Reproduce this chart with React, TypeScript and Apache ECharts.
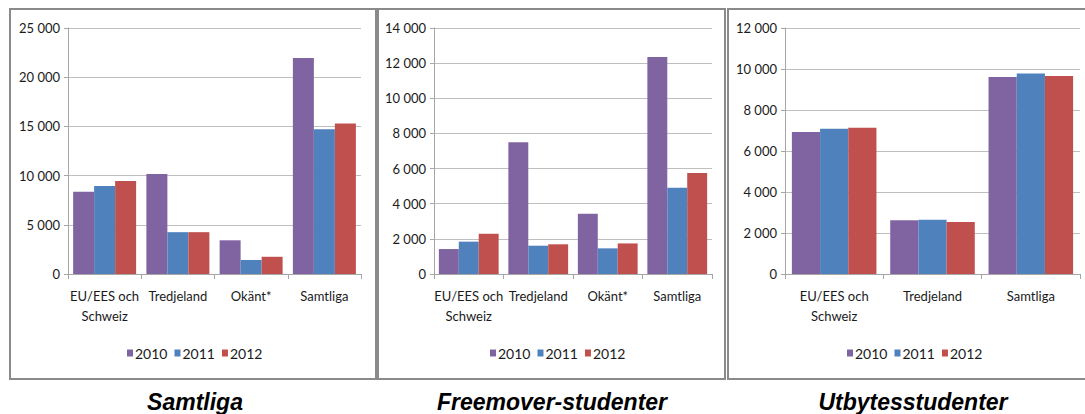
import React, { useEffect, useRef } from "react";
import * as echarts from "echarts";

const categoriesFour = ["EU/EES och\nSchweiz", "Tredjeland", "Okänt*", "Samtliga"];
const categoriesThree = ["EU/EES och\nSchweiz", "Tredjeland", "Samtliga"];
const years = ["2010", "2011", "2012"];
const yearColors = ["#8064A2", "#4F81BD", "#C0504D"];

// Samtliga
const samtliga2010 = [8350, 10150, 3425, 21950];
const samtliga2011 = [8950, 4250, 1420, 14700];
const samtliga2012 = [9450, 4250, 1750, 15300];

// Freemover-studenter
const freemover2010 = [1420, 7500, 3430, 12350];
const freemover2011 = [1840, 1610, 1460, 4910];
const freemover2012 = [2290, 1690, 1740, 5750];

// Utbytesstudenter
const utbyte2010 = [6930, 2620, 9610];
const utbyte2011 = [7090, 2650, 9785];
const utbyte2012 = [7135, 2535, 9660];

const panelTitles = ["Samtliga", "Freemover-studenter", "Utbytesstudenter"];
const yMax = [25000, 14000, 12000];
const yInterval = [5000, 2000, 2000];

const FONT = "Lato, 'Noto Sans', sans-serif";
const TITLE_FONT = "'Liberation Sans', Arial, sans-serif";

const fmt = (v: number) => {
  const s = String(Math.round(v));
  return s.replace(/\B(?=(\d{3})+(?!\d))/g, " ");
};

export default function App() {
  const ref = useRef<HTMLDivElement>(null);
  useEffect(() => {
    document.body.style.margin = "0";
    if (!ref.current) return;
    const chart = echarts.init(ref.current, null, { renderer: "svg" });

    const grids = [
      { left: 68, top: 28, width: 293, height: 246 },
      { left: 434, top: 28, width: 278, height: 246 },
      { left: 785, top: 28, width: 295, height: 246 },
    ];
    const cats = [categoriesFour, categoriesFour, categoriesThree];
    const data = [
      [samtliga2010, samtliga2011, samtliga2012],
      [freemover2010, freemover2011, freemover2012],
      [utbyte2010, utbyte2011, utbyte2012],
    ];
    const legendLeft = [127, 490, 847];
    const titleX = [195, 552, 913];

    const series: any[] = [];
    data.forEach((panel, p) => {
      panel.forEach((vals, i) => {
        series.push({
          type: "bar",
          name: years[i],
          xAxisIndex: p,
          yAxisIndex: p,
          data: vals,
          barGap: "0%",
          barCategoryGap: "14%",
          itemStyle: { color: yearColors[i] },
        });
      });
    });

    const option: any = {
      animation: false,
      grid: grids.map((g) => ({ ...g, containLabel: false })),
      xAxis: cats.map((c, p) => ({
        type: "category",
        gridIndex: p,
        data: c,
        axisLine: { show: true, lineStyle: { color: "#a6a6a6", width: 1 } },
        axisTick: { show: true, length: 5, lineStyle: { color: "#a6a6a6" } },
        axisLabel: {
          color: "#1a1a1a",
          fontFamily: FONT,
          fontSize: 13,
          lineHeight: 20,
          margin: 12,
          interval: 0,
        },
      })),
      yAxis: yMax.map((m, p) => ({
        type: "value",
        gridIndex: p,
        min: 0,
        max: m,
        interval: yInterval[p],
        axisLine: { show: true, lineStyle: { color: "#a6a6a6", width: 1 } },
        axisTick: { show: true, length: 4, lineStyle: { color: "#a6a6a6" } },
        splitLine: { show: true, lineStyle: { color: "#bfbfbf", width: 1 } },
        axisLabel: {
          color: "#1a1a1a",
          fontFamily: FONT,
          fontSize: 13,
          margin: 8,
          formatter: fmt,
        },
      })),
      legend: [0, 1, 2].map((p) => ({
        left: legendLeft[p],
        top: 346,
        icon: "rect",
        itemWidth: 6,
        itemHeight: 7,
        itemGap: 7,
        padding: 0,
        data: years.map((y) => ({ name: y })),
        textStyle: { fontFamily: FONT, fontSize: 14, color: "#1a1a1a", padding: [0, 0, 0, -3] },
        selectedMode: false,
      })),
      series,
      graphic: [
        { type: "rect", shape: { x: 10, y: 9, width: 366, height: 370 }, style: { fill: "none", stroke: "#8a8a8a", lineWidth: 2 } },
        { type: "rect", shape: { x: 378, y: 9, width: 347, height: 370 }, style: { fill: "none", stroke: "#8a8a8a", lineWidth: 2 } },
        { type: "rect", shape: { x: 728, y: 9, width: 370, height: 370 }, style: { fill: "none", stroke: "#8a8a8a", lineWidth: 2 } },
        ...panelTitles.map((t, p) => ({
          type: "text",
          x: titleX[p],
          y: 402,
          style: {
            text: t,
            fontFamily: TITLE_FONT,
            fontSize: 23,
            fontWeight: "bold",
            fontStyle: "italic",
            fill: "#000",
            textAlign: "center",
            textVerticalAlign: "middle",
          },
        })),
      ],
    };
    chart.setOption(option);
    return () => chart.dispose();
  }, []);
  return <div ref={ref} style={{ width: 1085, height: 414 }} />;
}
